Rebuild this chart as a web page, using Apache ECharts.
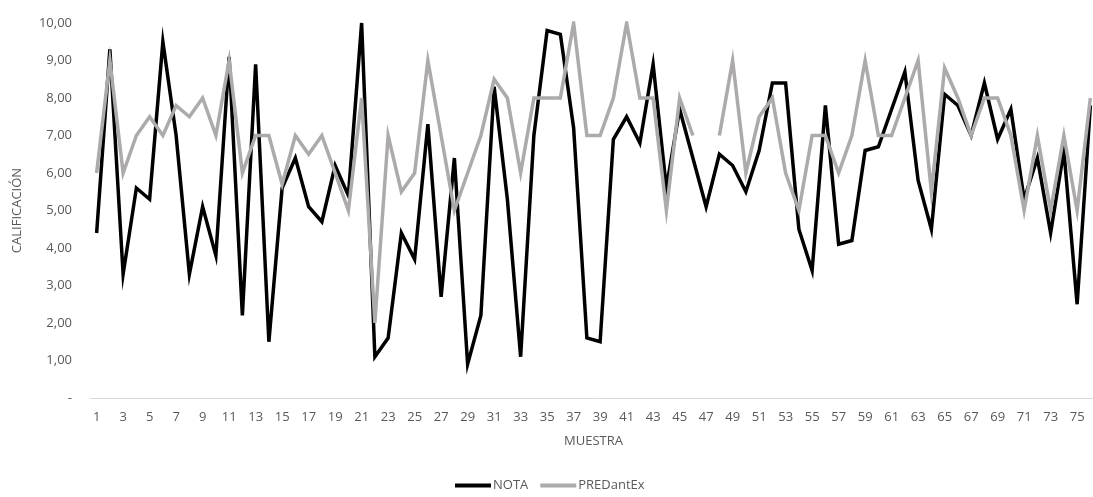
<!DOCTYPE html>
<html>
<head>
<meta charset="utf-8">
<script src="https://cdn.jsdelivr.net/npm/echarts@6/dist/echarts.min.js"></script>
<style>
  html, body { margin: 0; padding: 0; background: #fff; overflow: hidden; }
  #chart { width: 1100px; height: 497px; }
</style>
</head>
<body>
<div id="chart"></div>
<script>
// Sample numbers 1..76
const muestras = Array.from({ length: 76 }, (_, i) => String(i + 1));

// Observed grade per sample
const nota = [
  4.4, 9.3, 3.3, 5.6, 5.3, 9.5, 7.0, 3.3, 5.1, 3.8,
  9.1, 2.2, 8.9, 1.5, 5.6, 6.4, 5.1, 4.7, 6.2, 5.4,
  10.0, 1.1, 1.6, 4.4, 3.7, 7.3, 2.7, 6.4, 0.9, 2.2,
  8.3, 5.3, 1.1, 7.0, 9.8, 9.7, 7.2, 1.6, 1.5, 6.9,
  7.5, 6.8, 8.9, 5.6, 7.7, 6.4, 5.1, 6.5, 6.2, 5.5,
  6.6, 8.4, 8.4, 4.5, 3.4, 7.8, 4.1, 4.2, 6.6, 6.7,
  7.7, 8.7, 5.8, 4.5, 8.1, 7.8, 7.0, 8.4, 6.9, 7.7,
  5.3, 6.4, 4.4, 6.6, 2.5, 7.8
];

// Predicted grade per sample (sample 47 has no prediction)
const predAntEx = [
  6, 9, 6, 7, 7.5, 7, 7.8, 7.5, 8, 7,
  9, 6, 7, 7, 5.7, 7, 6.5, 7, 6, 5,
  8, 2, 7, 5.5, 6, 9, 7, 5, 6, 7,
  8.5, 8, 6, 8, 8, 8, 10, 7, 7, 8,
  10, 8, 8, 5, 8, 7, null, 7, 9, 6,
  7.5, 8, 6, 5, 7, 7, 6, 7, 9, 7,
  7, 8, 9, 5.5, 8.8, 8, 7, 8, 8, 7,
  5, 7, 5, 7, 5, 8
];

const font = '"Open Sans", "Noto Sans", sans-serif';
const labelColor = '#595959';

const chart = echarts.init(document.getElementById('chart'), null, { renderer: 'canvas' });

chart.setOption({
  animation: false,
  backgroundColor: '#ffffff',
  grid: { left: 90, right: 3, top: 23, bottom: 99, containLabel: false },
  legend: {
    bottom: 0,
    left: 450,
    itemWidth: 36,
    itemHeight: 4,
    itemGap: 12,
    icon: 'rect',
    textStyle: { color: labelColor, fontFamily: font, fontSize: 13, padding: [0, 0, 0, -3] },
    data: ['NOTA', 'PREDantEx']
  },
  xAxis: {
    type: 'category',
    data: muestras,
    boundaryGap: true,
    name: 'MUESTRA',
    nameLocation: 'middle',
    nameGap: 37,
    nameTextStyle: { color: labelColor, fontFamily: font, fontSize: 13 },
    axisLine: { lineStyle: { color: '#d9d9d9', width: 1 } },
    axisTick: { show: false },
    axisLabel: { interval: 1, color: labelColor, fontFamily: font, fontSize: 13, margin: 13 },
    splitLine: { show: false }
  },
  yAxis: {
    type: 'value',
    min: 0,
    max: 10,
    interval: 1,
    name: 'CALIFICACIÓN',
    nameLocation: 'middle',
    nameGap: 66,
    nameTextStyle: { color: labelColor, fontFamily: font, fontSize: 13 },
    axisLine: { show: false },
    axisTick: { show: false },
    splitLine: { show: false },
    axisLabel: {
      color: labelColor,
      fontFamily: font,
      fontSize: 13,
      margin: 18,
      formatter: v => v === 0 ? '-' : v.toFixed(2).replace('.', ',')
    }
  },
  series: [
    {
      name: 'NOTA',
      type: 'line',
      data: nota,
      symbol: 'none',
      lineStyle: { color: '#000000', width: 3.5, join: 'miter' },
      itemStyle: { color: '#000000' },
      z: 2
    },
    {
      name: 'PREDantEx',
      type: 'line',
      data: predAntEx,
      connectNulls: false,
      symbol: 'none',
      lineStyle: { color: '#acaaaa', width: 3.5, join: 'miter' },
      itemStyle: { color: '#acaaaa' },
      z: 3
    }
  ]
});
</script>
</body>
</html>
